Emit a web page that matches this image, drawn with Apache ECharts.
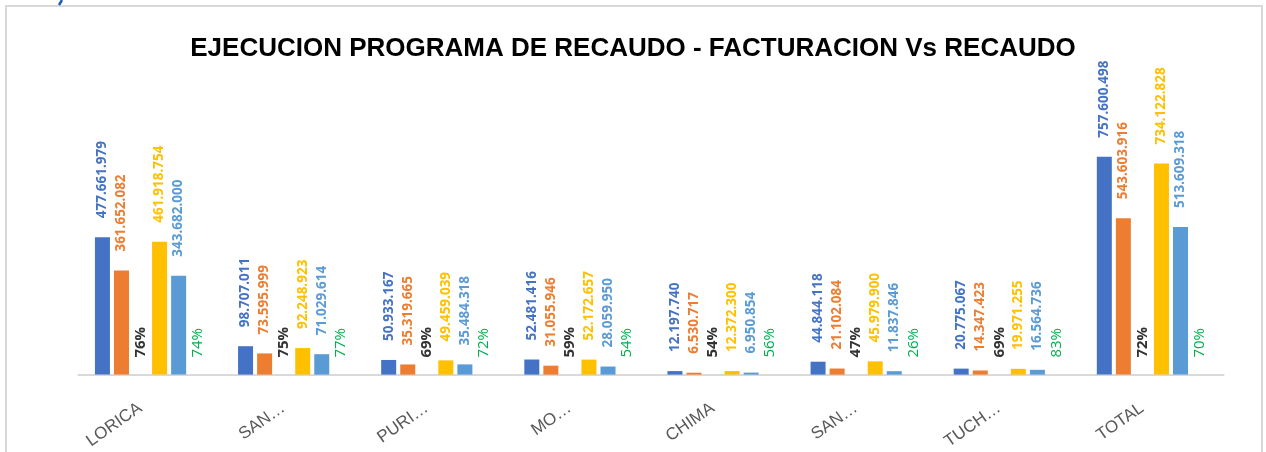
<!DOCTYPE html>
<html>
<head>
<meta charset="utf-8">
<script src="https://cdn.jsdelivr.net/npm/echarts@6/dist/echarts.min.js"></script>
<style>
    html, body { margin: 0; padding: 0; background: #fff; }
    #chart { width: 1266px; height: 452px; }
</style>
</head>
<body>
<div id="chart"></div>
<script>
    var categorias = ['LORICA', 'SAN…', 'PURI…', 'MO…', 'CHIMA', 'SAN…', 'TUCH…', 'TOTAL'];
    var facturacion1 = [477661979, 98707011, 50933167, 52481416, 12197740, 44844118, 20775067, 757600498];
    var recaudo1 = [361652082, 73595999, 35319665, 31055946, 6530717, 21102084, 14347423, 543603916];
    var pctRecaudo1 = [76, 75, 69, 59, 54, 47, 69, 72];
    var facturacion2 = [461918754, 92248923, 49459039, 52172657, 12372300, 45979900, 19971255, 734122828];
    var recaudo2 = [343682000, 71029614, 35484318, 28059950, 6950854, 11837846, 16564736, 513609318];
    var pctRecaudo2 = [74, 77, 72, 54, 56, 26, 83, 70];

    function miles(v) {
        return String(v).replace(/\B(?=(\d{3})+(?!\d))/g, '.');
    }

    function serieValor(datos, color) {
        return {
            type: 'bar',
            data: datos,
            barWidth: 15,
            barGap: '27%',
            itemStyle: { color: color },
            label: {
                show: true,
                position: 'top',
                rotate: 90,
                align: 'left',
                verticalAlign: 'middle',
                distance: 19,
                color: color,
                fontFamily: 'Open Sans',
                fontWeight: 'bold',
                fontSize: 13.5,
                formatter: function (p) { return miles(p.value); }
            }
        };
    }

    // porcentajes: barras invisibles en un eje aparte, solo se ve la etiqueta
    function seriePct(datos, color, peso) {
        return {
            type: 'bar',
            yAxisIndex: 1,
            data: datos,
            barWidth: 15,
            barGap: '27%',
            itemStyle: { color: 'rgba(0,0,0,0)' },
            label: {
                show: true,
                position: 'top',
                rotate: 90,
                align: 'left',
                verticalAlign: 'middle',
                distance: 17,
                color: color,
                fontFamily: 'Open Sans',
                fontWeight: peso,
                fontSize: 15,
                formatter: function (p) { return p.value + '%'; }
            }
        };
    }

    var chart = echarts.init(document.getElementById('chart'));
    chart.setOption({
        animation: false,
        backgroundColor: '#fff',
        title: {
            text: 'EJECUCION PROGRAMA DE RECAUDO - FACTURACION Vs RECAUDO',
            left: 'center',
            top: 31,
            textStyle: {
                color: '#000',
                fontFamily: 'Liberation Sans',
                fontWeight: 'bold',
                fontSize: 26
            }
        },
        graphic: [{
            type: 'rect',
            shape: { x: 6, y: 6, width: 1256, height: 460 },
            style: { fill: 'none', stroke: '#d9d9d9', lineWidth: 2 },
            silent: true
        }, {
            type: 'polyline',
            shape: { points: [[62, 0], [59, 5]] },
            style: { stroke: '#1f5fa8', lineWidth: 2.5 },
            silent: true
        }],
        grid: { left: 78.5, right: 42.5, top: 87, bottom: 77 },
        xAxis: {
            type: 'category',
            data: categorias,
            axisLine: { lineStyle: { color: '#d9d9d9', width: 2 } },
            axisTick: { show: false },
            axisLabel: {
                rotate: 35,
                color: '#595959',
                fontFamily: 'Liberation Sans',
                fontSize: 17,
                margin: 25,
                padding: [0, 12, 0, 0]
            }
        },
        yAxis: [
            { type: 'value', min: 0, max: 1000000000, show: false },
            { type: 'value', min: 0, max: 100000000, show: false }
        ],
        series: [
            serieValor(facturacion1, '#4472C4'),
            serieValor(recaudo1, '#ED7D31'),
            seriePct(pctRecaudo1, '#333333', 'bold'),
            serieValor(facturacion2, '#FFC000'),
            serieValor(recaudo2, '#5B9BD5'),
            seriePct(pctRecaudo2, '#00B050', 'normal')
        ]
    });
</script>
</body>
</html>
